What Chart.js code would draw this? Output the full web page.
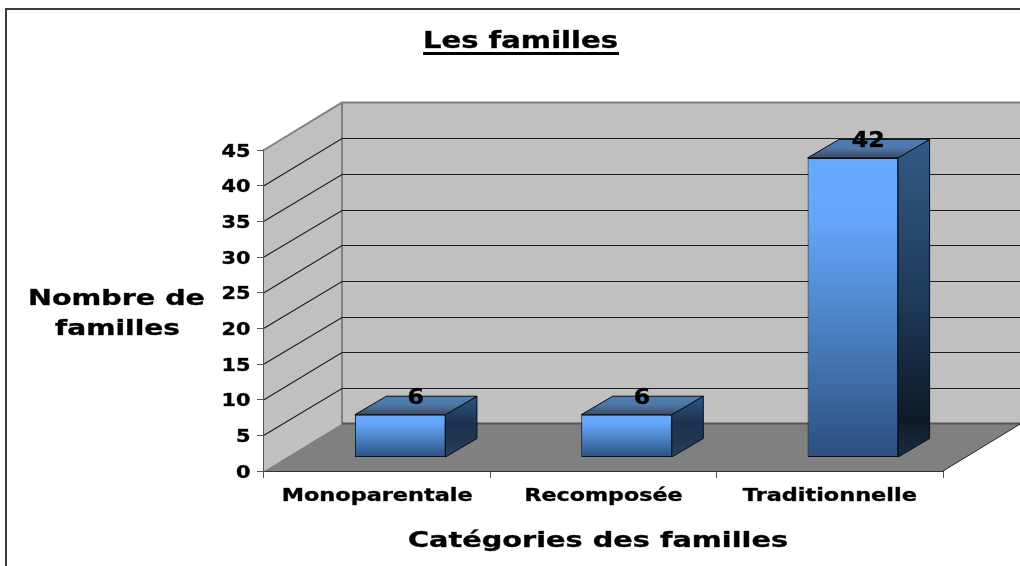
<!doctype html>
<html lang="fr">
  <head>
    <meta charset="utf-8">
    <title>Les familles</title>
    <script src="https://cdn.jsdelivr.net/npm/chart.js"></script>
    <style>
      body { margin: 0; background: #fff; }
      canvas { display: block; }
    </style>
  </head>
  <body>
    <canvas id="famillesChart" width="1020" height="566"></canvas>
    <script>
      const categories = ['Monoparentale', 'Recomposée', 'Traditionnelle'];
      const counts = [6, 6, 42];
      const yTicks = [0, 5, 10, 15, 20, 25, 30, 35, 40, 45];
      const chartTitle = 'Les familles';
      const yTitleLines = ['Nombre de', 'familles'];
      const xTitle = 'Catégories des familles';

      // depth of the box (floor and walls) and of a bar, in px
      const wallDx = 78, wallDy = 47.5;
      const barDx = 31.5, barDy = 18.5;
      const barShiftX = 23, barShiftY = 13.5;
      const xLabelWidths = [191, 158, 174];
      const FONT = '"DejaVu Sans"';

      function wideText(ctx, str, x, y, size, stretch, align) {
        ctx.save();
        ctx.font = 'bold ' + size + 'px ' + FONT;
        ctx.fillStyle = '#000';
        ctx.strokeStyle = 'rgba(0,0,0,0.7)';
        ctx.lineWidth = 0.5;
        ctx.textAlign = align || 'center';
        ctx.textBaseline = 'alphabetic';
        ctx.translate(x, y);
        ctx.scale(stretch, 1);
        ctx.fillText(str, 0, 0);
        ctx.strokeText(str, 0, 0); // the source text is a bit heavier than plain bold
        ctx.restore();
      }

      function fitText(ctx, str, x, y, size, width) {
        ctx.save();
        ctx.font = 'bold ' + size + 'px ' + FONT;
        const stretch = width / ctx.measureText(str).width;
        ctx.restore();
        wideText(ctx, str, x, y, size, stretch);
      }

      function poly(ctx, pts, fill, stroke, lw) {
        ctx.beginPath();
        pts.forEach((p, i) => i ? ctx.lineTo(p[0], p[1]) : ctx.moveTo(p[0], p[1]));
        ctx.closePath();
        if (fill) { ctx.fillStyle = fill; ctx.fill(); }
        if (stroke) { ctx.strokeStyle = stroke; ctx.lineWidth = lw || 1; ctx.stroke(); }
      }

      function vGrad(ctx, y0, y1, stops) {
        const g = ctx.createLinearGradient(0, y0, 0, y1);
        stops.forEach(s => g.addColorStop(s[0], s[1]));
        return g;
      }

      const box3d = {
        id: 'box3d',
        beforeDatasetsDraw(chart) {
          const ctx = chart.ctx;
          const { left, right, top, bottom } = chart.chartArea;
          const y = chart.scales.y;

          ctx.save();
          // frame
          ctx.strokeStyle = '#3a3a3a';
          ctx.lineWidth = 2;
          ctx.strokeRect(6, 9, 1100, 700);

          // walls and floor
          poly(ctx, [[left + wallDx, top - wallDy], [right + wallDx, top - wallDy], [right + wallDx, bottom - wallDy], [left + wallDx, bottom - wallDy]], '#c0c0c0');
          poly(ctx, [[left, top], [left + wallDx, top - wallDy], [left + wallDx, bottom - wallDy], [left, bottom]], '#c0c0c0');
          poly(ctx, [[left, bottom], [right, bottom], [right + wallDx, bottom - wallDy], [left + wallDx, bottom - wallDy]], '#808080');

          ctx.strokeStyle = '#808080';
          ctx.lineWidth = 2;
          ctx.beginPath();
          ctx.moveTo(left, top);
          ctx.lineTo(left + wallDx, top - wallDy);
          ctx.lineTo(right + wallDx, top - wallDy);
          ctx.moveTo(left + wallDx, top - wallDy);
          ctx.lineTo(left + wallDx, bottom - wallDy);
          ctx.stroke();

          ctx.strokeStyle = '#555';
          ctx.beginPath();
          ctx.moveTo(left + wallDx, bottom - wallDy);
          ctx.lineTo(right + wallDx, bottom - wallDy);
          ctx.stroke();

          ctx.strokeStyle = '#222';
          ctx.lineWidth = 1;
          ctx.beginPath();
          ctx.moveTo(right, bottom);
          ctx.lineTo(right + wallDx, bottom - wallDy);
          ctx.stroke();

          // grid lines on the left and back walls
          ctx.strokeStyle = '#1e1e1e';
          ctx.lineWidth = 1.2;
          ctx.beginPath();
          y.ticks.forEach(t => {
            if (t.value === 0 || t.value === 45) return;
            const py = y.getPixelForValue(t.value);
            const backY = Math.round(py - wallDy) + 0.5;
            ctx.moveTo(left, py);
            ctx.lineTo(left + wallDx, backY);
            ctx.lineTo(right + wallDx, backY);
          });
          ctx.stroke();

          // sides and tops of the bars, the front face is the chart.js bar itself
          ctx.translate(barShiftX, barShiftY * -1);
          chart.getDatasetMeta(0).data.forEach(bar => {
            const p = bar.getProps(['x', 'y', 'base', 'width']);
            const l = p.x - p.width / 2, r = p.x + p.width / 2;
            // short bars lighten again towards the bottom, the tall one goes nearly black
            const sideStops = p.base - p.y < 100
              ? [[0, '#2f5580'], [0.45, '#1c3150'], [0.75, '#223850'], [1, '#2d4560']]
              : [[0, '#335a85'], [0.5, '#1f3a5a'], [0.88, '#0e1a28'], [1, '#1c2c3e']];
            poly(ctx, [[r, p.y], [r + barDx, p.y - barDy], [r + barDx, p.base - barDy], [r, p.base]],
              vGrad(ctx, p.y - barDy, p.base, sideStops), '#050c16');
            poly(ctx, [[l, p.y], [l + barDx, p.y - barDy], [r + barDx, p.y - barDy], [r, p.y]],
              vGrad(ctx, p.y - barDy, p.y, [[0, '#4a7cb8'], [0.45, '#4f78a8'], [1, '#3a4b64']]), '#050c16');
          });
          // restored in afterDatasetsDraw, so the bars sit on the same plane
        },
        afterDatasetsDraw(chart) {
          const ctx = chart.ctx;
          ctx.restore();

          const x = chart.scales.x, y = chart.scales.y;

          // value labels
          chart.getDatasetMeta(0).data.forEach((bar, i) => {
            const p = bar.getProps(['x', 'y']);
            wideText(ctx, String(counts[i]), p.x + barShiftX + 15.5, p.y - barShiftY - 11, 21, 1.13);
          });

          // tick labels
          y.ticks.forEach(t => {
            wideText(ctx, String(t.value), 250.5, y.getPixelForValue(t.value) + 6.5, 17, 1.225, 'right');
          });
          categories.forEach((c, i) => {
            fitText(ctx, c, x.getPixelForValue(i), 501, 17, xLabelWidths[i]);
          });

          // titles
          fitText(ctx, chartTitle, 520.5, 48, 23, 195);
          ctx.fillStyle = '#000';
          ctx.fillRect(423, 52, 196, 3);
          fitText(ctx, yTitleLines[0], 116.5, 305, 22, 177);
          fitText(ctx, yTitleLines[1], 117.5, 335, 22, 125);
          fitText(ctx, xTitle, 598, 547, 22, 380);
        }
      };

      new Chart(document.getElementById('famillesChart'), {
        type: 'bar',
        data: {
          labels: categories,
          datasets: [{
            label: 'Familles',
            data: counts,
            barPercentage: 0.4,
            categoryPercentage: 1,
            borderColor: '#050f1e',
            borderWidth: 1,
            borderSkipped: false,
            clip: false,
            backgroundColor(c) {
              const y = c.chart.scales.y;
              const top = y.getPixelForValue(counts[c.dataIndex]), base = y.getPixelForValue(0);
              if (!isFinite(top) || !isFinite(base)) return '#66aaff';
              return vGrad(c.chart.ctx, top, base,
                [[0, '#66aaff'], [0.2, '#64a6fa'], [0.5, '#5088cc'], [0.75, '#3d6ca6'], [1, '#2b4f7e']]);
            }
          }]
        },
        plugins: [box3d],
        options: {
          responsive: false,
          animation: false,
          layout: { padding: { left: 0, top: 150, right: 77, bottom: 0 } },
          plugins: { legend: { display: false }, title: { display: false }, tooltip: { enabled: false } },
          scales: {
            x: {
              afterFit(s) { s.height = 95; },
              border: { color: '#333', width: 2 },
              grid: { drawOnChartArea: false, tickLength: 7, color: '#555' },
              ticks: { display: false }
            },
            y: {
              min: 0,
              max: 45,
              afterFit(s) { s.width = 264; },
              afterBuildTicks(s) { s.ticks = yTicks.map(v => ({ value: v })); },
              border: { color: '#555', width: 2 },
              grid: { drawOnChartArea: false, tickLength: 7, color: '#555' },
              ticks: { display: false }
            }
          }
        }
      });
    </script>
  </body>
</html>
